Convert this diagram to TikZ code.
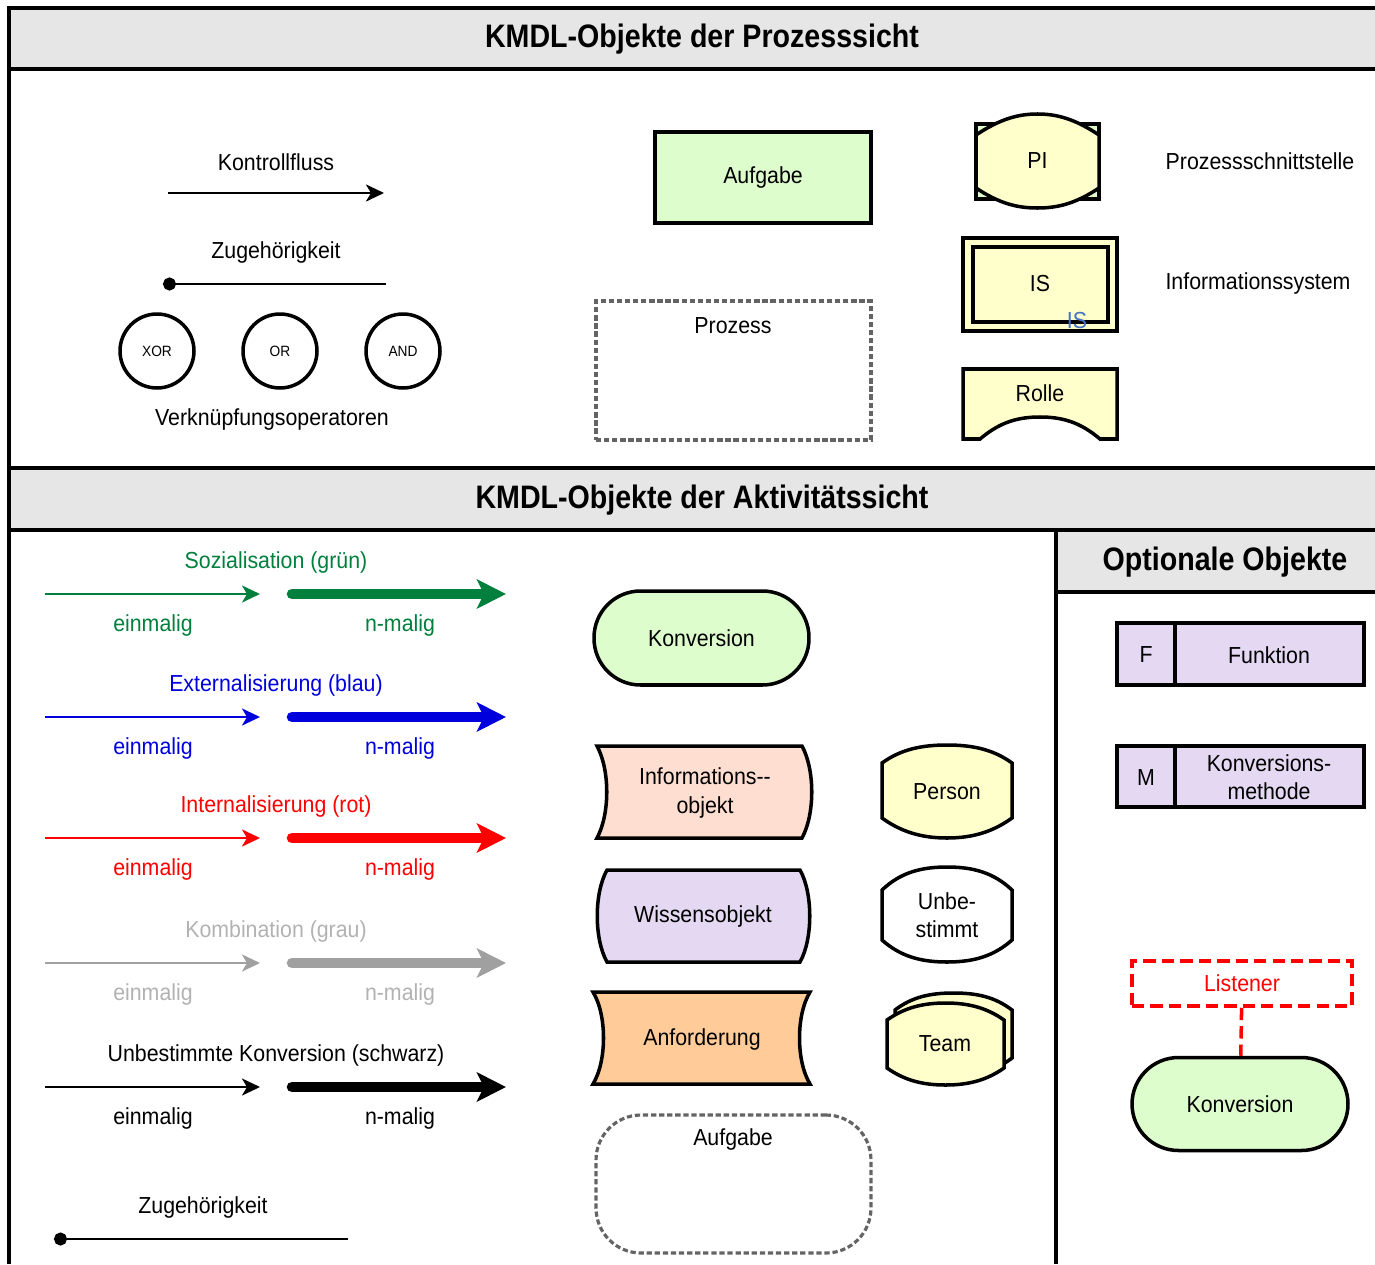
\documentclass[tikz,border=0pt]{standalone}
\usepackage{fontspec}
\setmainfont{Liberation Sans}[FakeStretch=0.92]
\newfontfamily\headfont{Liberation Sans}[FakeStretch=0.88]
\usetikzlibrary{arrows.meta,positioning}

\definecolor{bandgray}{RGB}{230,230,230}
\definecolor{taskgreen}{RGB}{221,253,204}
\definecolor{roleyellow}{RGB}{255,255,204}
\definecolor{infopeach}{RGB}{253,222,208}
\definecolor{knowlilac}{RGB}{228,216,242}
\definecolor{reqorange}{RGB}{255,204,153}
\definecolor{sozgreen}{RGB}{0,128,60}
\definecolor{extblue}{RGB}{0,0,220}
\definecolor{intred}{RGB}{255,0,0}
\definecolor{kombarrow}{RGB}{160,160,160}
\definecolor{kombtext}{RGB}{178,178,178}
\definecolor{isblue}{RGB}{68,114,196}
\definecolor{dashgray}{RGB}{100,100,100}

\begin{document}
\begin{tikzpicture}[x=0.02cm,y=-0.02cm,line join=miter,
    txt/.style={font=\fontsize{13.2}{16}\selectfont,inner sep=0pt,align=center},
    head/.style={font=\headfont\fontsize{18.5}{20}\selectfont\bfseries,inner sep=0pt},
    obj/.style={draw,line width=2pt},
    obj node/.style={obj,rectangle,inner sep=0pt,align=center,font=\fontsize{13.2}{16}\selectfont},
    op node/.style={obj,circle,minimum size=1.48cm,inner sep=0pt,font=\fontsize{8.5}{10}\selectfont},
    once/.style={line width=1.5pt,-{Stealth[length=0.36cm,width=0.34cm,inset=0.1cm]}},
    many/.style={line width=6pt,line cap=round,-{Stealth[length=0.58cm,width=0.58cm,inset=0.14cm]}},
    member/.style={line width=1.5pt,{Circle[length=0.26cm]}-},
    gray dash/.style={draw=dashgray,line width=1.8pt,dash pattern=on 3pt off 1.6pt}]

  \useasboundingbox (0,0) rectangle (1375,1264);

  % frame and title bands
  \fill[bandgray] (9,8) rectangle (1375,69);
  \fill[bandgray] (9,468) rectangle (1375,530);
  \fill[bandgray] (1056,530) rectangle (1375,592);
  \draw[line width=2pt] (1375,8) -- (9,8) -- (9,1264);
  \draw[line width=2pt] (9,69) -- (1375,69);
  \draw[line width=2pt] (9,468) -- (1375,468);
  \draw[line width=2pt] (9,530) -- (1375,530);
  \draw[line width=2pt] (1056,530) -- (1056,1264);
  \draw[line width=2pt] (1056,592) -- (1375,592);

  \node[head] (prozesssicht) at (702,39) {KMDL-Objekte der Prozesssicht};
  \node[head] (aktsicht) at (702,500) {KMDL-Objekte der Aktivitätssicht};
  \node[head] (optional) at (1225,562) {Optionale Objekte};

  % process view: connectors
  \node[txt] (kfluss) at (276,162) {Kontrollfluss};
  \coordinate (kf1) at (168,193);
  \coordinate (kf2) at (384,193);
  \draw[once] (kf1) -- (kf2);

  \node[txt] (zug1) at (276,253) {Zugehörigkeit};
  \coordinate (zg1) at (163,284);
  \coordinate (zg2) at (386,284);
  \draw[member] (zg1) -- (zg2);

  \node[op node] (xor) at (157,351) {XOR};
  \node[op node] (or) at (280,351) {OR};
  \node[op node] (and) at (403,351) {AND};
  \node[txt] (verkn) at (272,419) {Verknüpfungsoperatoren};

  % process view: objects
  \node[obj node,fill=taskgreen,minimum width=4.32cm,minimum height=1.82cm] (aufgabe) at (763,177.5) {Aufgabe};

  \node[gray dash,rectangle,minimum width=5.5cm,minimum height=2.78cm] (prozess) at (733.5,370.5) {};
  \node[txt] (prozesslbl) at (733,326) {Prozess};

  \draw[obj,fill=taskgreen] (976,124) rectangle (1099,199);
  \draw[obj,fill=roleyellow] (976,135) .. controls (1000,119) and (1018,114) .. (1037.5,114)
    .. controls (1057,114) and (1075,119) .. (1099,135) -- (1099,188)
    .. controls (1075,204) and (1057,208) .. (1037.5,208)
    .. controls (1018,208) and (1000,204) .. (976,188) -- cycle;
  \node[txt] (pi) at (1037.5,161) {PI};
  \node[txt] (pilbl) at (1260,161) {Prozessschnittstelle};

  \draw[obj,fill=roleyellow] (963,238) rectangle (1117,331);
  \draw[obj] (973,247) rectangle (1108,322);
  \node[txt] (is) at (1040,284) {IS};
  \node[txt,text=isblue] (issmall) at (1077,321) {IS};
  \node[txt] (islbl) at (1258,284) {Informationssystem};

  \draw[obj,fill=roleyellow] (963,369) -- (1117,369) -- (1117,439) -- (1100,439)
    .. controls (1080,422) and (1062,417) .. (1040,417)
    .. controls (1018,417) and (1000,422) .. (980,439) -- (963,439) -- cycle;
  \node[txt] (rolle) at (1040,393) {Rolle};

  % activity view: conversion arrows
  \foreach \yy/\cc/\tc/\name [count=\i] in {562/sozgreen/sozgreen/{Sozialisation (grün)},
      685/extblue/extblue/{Externalisierung (blau)},
      806/intred/intred/{Internalisierung (rot)},
      931/kombarrow/kombtext/{Kombination (grau)},
      1055/black/black/{Unbestimmte Konversion (schwarz)}} {
    \node[txt,text=\tc] (art\i) at (276,\yy) {\name};
    \coordinate (ea\i) at (45,\yy+32);
    \coordinate (eb\i) at (260,\yy+32);
    \coordinate (na\i) at (292,\yy+32);
    \coordinate (nb\i) at (506,\yy+32);
    \draw[once,draw=\cc] (ea\i) -- (eb\i);
    \draw[many,draw=\cc] (na\i) -- (nb\i);
    \node[txt,text=\tc] (ein\i) at (153,\yy+63) {einmalig};
    \node[txt,text=\tc] (nmal\i) at (400,\yy+63) {n-malig};
  }

  \node[txt] (zug2) at (203,1207) {Zugehörigkeit};
  \coordinate (zg3) at (54,1239);
  \coordinate (zg4) at (348,1239);
  \draw[member] (zg3) -- (zg4);

  % activity view: objects
  \node[obj node,fill=taskgreen,rounded corners=0.93cm,minimum width=4.3cm,minimum height=1.88cm] (konv) at (701.5,638) {Konversion};

  \draw[obj,fill=infopeach] (597,746) -- (802,746) .. controls (815,770) and (815,814) .. (802,838)
    -- (597,838) .. controls (610,814) and (610,770) .. (597,746) -- cycle;
  \node[txt] (infoobj) at (705,793) {Informations-{}-\\objekt};

  \draw[obj,fill=knowlilac] (607,870) -- (800,870) .. controls (813,893) and (813,939) .. (800,962)
    -- (607,962) .. controls (594,939) and (594,893) .. (607,870) -- cycle;
  \node[txt] (wissen) at (703,916) {Wissensobjekt};

  \draw[obj,fill=reqorange] (593,992) -- (810,992) .. controls (796,1015) and (796,1061) .. (810,1084)
    -- (593,1084) .. controls (607,1061) and (607,1015) .. (593,992) -- cycle;
  \node[txt] (anford) at (702,1039) {Anforderung};

  \node[gray dash,rectangle,rounded corners=0.9cm,minimum width=5.5cm,minimum height=2.76cm] (aufgabe2) at (733.5,1184) {};
  \node[txt] (aufgabe2lbl) at (733,1139) {Aufgabe};

  \draw[obj,fill=roleyellow] (882,763) .. controls (900,750) and (920,745) .. (947,745)
    .. controls (974,745) and (994,750) .. (1012,763) -- (1012,818)
    .. controls (994,831) and (974,838) .. (947,838)
    .. controls (920,838) and (900,831) .. (882,818) -- cycle;
  \node[txt] (person) at (947,792) {Person};

  \draw[obj,fill=white] (882,890) .. controls (900,873) and (920,867) .. (947,867)
    .. controls (974,867) and (994,873) .. (1012,890) -- (1012,940)
    .. controls (994,956) and (974,962) .. (947,962)
    .. controls (920,962) and (900,956) .. (882,940) -- cycle;
  \node[txt] (unbest) at (947,915) {Unbe-\\stimmt};

  \draw[obj,fill=roleyellow] (895,1010) .. controls (912,997) and (930,993) .. (953.5,993)
    .. controls (977,993) and (995,997) .. (1012,1010) -- (1012,1058)
    .. controls (995,1071) and (977,1076) .. (953.5,1076)
    .. controls (930,1076) and (912,1071) .. (895,1058) -- cycle;
  \draw[obj,fill=roleyellow] (887,1020) .. controls (904,1008) and (922,1003) .. (945.5,1003)
    .. controls (969,1003) and (987,1008) .. (1004,1020) -- (1004,1068)
    .. controls (987,1080) and (969,1085) .. (945.5,1085)
    .. controls (922,1085) and (904,1080) .. (887,1068) -- cycle;
  \node[txt] (team) at (945,1044) {Team};

  % optional objects
  \draw[obj,fill=knowlilac] (1117,623) rectangle (1364,685);
  \draw[obj] (1175,623) -- (1175,685);
  \node[txt] (f) at (1146,655) {F};
  \node[txt] (funktion) at (1269,655) {Funktion};

  \draw[obj,fill=knowlilac] (1117,746) rectangle (1364,807);
  \draw[obj] (1175,746) -- (1175,807);
  \node[txt] (m) at (1146,778) {M};
  \node[txt] (kmethode) at (1269,777) {Konversions-\\methode};

  \node[obj node,draw=intred,dash pattern=on 7pt off 3.5pt,line width=2pt,text=intred,minimum width=4.4cm,minimum height=0.9cm] (listener) at (1242,983.5) {Listener};
  \node[obj node,fill=taskgreen,rounded corners=0.93cm,minimum width=4.32cm,minimum height=1.86cm] (konv2) at (1240,1104) {Konversion};
  \draw[draw=intred,line width=2pt,dash pattern=on 7pt off 3.5pt] (listener) -- (konv2);

\end{tikzpicture}
\end{document}
